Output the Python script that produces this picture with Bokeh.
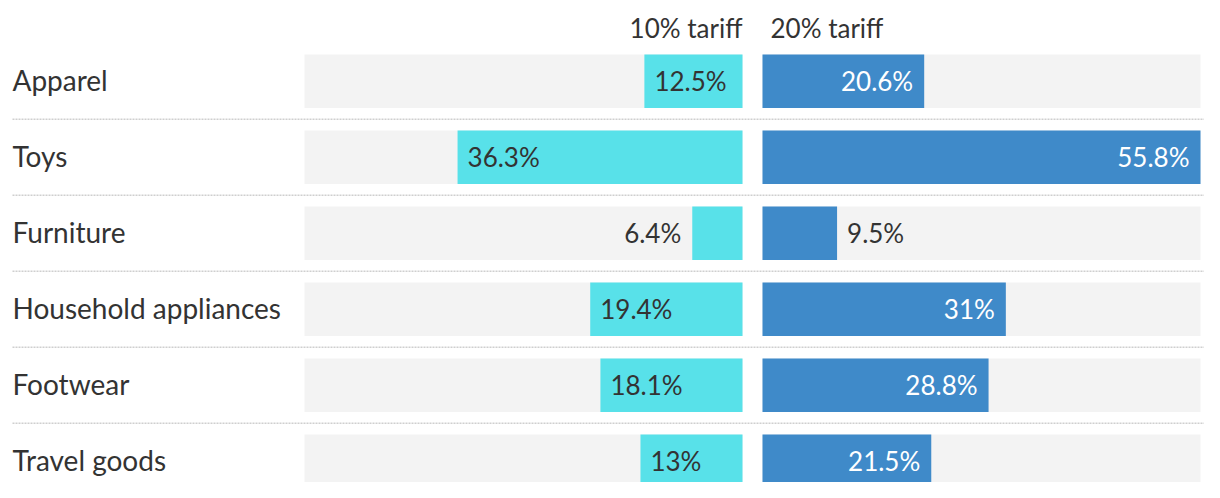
from bokeh.plotting import figure
from bokeh.models import Range1d
from bokeh.core.properties import value
from bokeh.embed import file_html
from bokeh.resources import INLINE

categories = ["Apparel", "Toys", "Furniture", "Household appliances", "Footwear", "Travel goods"]
tariff10 = [12.5, 36.3, 6.4, 19.4, 18.1, 13.0]
tariff20 = [20.6, 55.8, 9.5, 31.0, 28.8, 21.5]
labels10 = ["12.5%", "36.3%", "6.4%", "19.4%", "18.1%", "13%"]
labels20 = ["20.6%", "55.8%", "9.5%", "31%", "28.8%", "21.5%"]
headers = ["10% tariff", "20% tariff"]

FONT = "Lato"
W, H = 1204, 482
X0, X1 = 0, W
PANEL_W = 438
LEFT_ZERO = 742
RIGHT_ZERO = 762
ROW0 = 80.8
PITCH = 76.0
BAR_H = 53.5 / PITCH

vmax = max(max(tariff10), max(tariff20))
s = PANEL_W / vmax

p = figure(width=W, height=H, output_backend="svg", toolbar_location=None,
           x_range=Range1d(X0, X1),
           y_range=Range1d((H - ROW0) / PITCH, (0 - ROW0) / PITCH),
           min_border=0, min_border_left=0, min_border_right=0,
           min_border_top=0, min_border_bottom=0)
p.extra_x_ranges = {
    "left": Range1d((LEFT_ZERO - X0) / s, (LEFT_ZERO - X1) / s),
    "right": Range1d((X0 - RIGHT_ZERO) / s, (X1 - RIGHT_ZERO) / s),
}
p.xaxis.visible = False
p.yaxis.visible = False
p.grid.visible = False
p.outline_line_color = None
p.background_fill_color = "white"
p.border_fill_color = "white"

rows = list(range(len(categories)))

# separators
sep_y = [r + 0.5 for r in rows[:-1]]
p.segment(x0=[12] * len(sep_y), x1=[1204] * len(sep_y), y0=sep_y, y1=sep_y,
          line_color="#cfcfcf", line_width=1.5, line_dash="2 1")

# backgrounds
p.hbar(y=rows, left=0, right=vmax, height=BAR_H, fill_color="#f3f3f3",
       line_color=None, x_range_name="left")
p.hbar(y=rows, left=0, right=vmax, height=BAR_H, fill_color="#f3f3f3",
       line_color=None, x_range_name="right")

# bars
p.hbar(y=rows, left=0, right=tariff10, height=BAR_H, fill_color="#58e1e9",
       line_color=None, x_range_name="left")
p.hbar(y=rows, left=0, right=tariff20, height=BAR_H, fill_color="#3f8ac9",
       line_color=None, x_range_name="right")

# category labels
p.text(x=[12] * len(rows), y=rows, text=categories, text_font=value(FONT),
       text_font_size="28px", text_color="#333333", text_align="left",
       text_baseline="middle", y_offset=-1)

THR = 10
fs = "26px"
# left value labels
in_l = [i for i in rows if tariff10[i] > THR]
out_l = [i for i in rows if tariff10[i] <= THR]
p.text(x=[tariff10[i] for i in in_l], y=in_l, text=[labels10[i] for i in in_l],
       x_offset=10, text_align="left", text_baseline="middle", text_color="#333333",
       text_font=value(FONT), text_font_size=fs, x_range_name="left")
p.text(x=[tariff10[i] for i in out_l], y=out_l, text=[labels10[i] for i in out_l],
       x_offset=-11, text_align="right", text_baseline="middle", text_color="#333333",
       text_font=value(FONT), text_font_size=fs, x_range_name="left")
# right value labels
in_r = [i for i in rows if tariff20[i] > THR]
out_r = [i for i in rows if tariff20[i] <= THR]
p.text(x=[tariff20[i] for i in in_r], y=in_r, text=[labels20[i] for i in in_r],
       x_offset=-11, text_align="right", text_baseline="middle", text_color="white",
       text_font=value(FONT), text_font_size=fs, x_range_name="right")
p.text(x=[tariff20[i] for i in out_r], y=out_r, text=[labels20[i] for i in out_r],
       x_offset=10, text_align="left", text_baseline="middle", text_color="#333333",
       text_font=value(FONT), text_font_size=fs, x_range_name="right")

# headers
hy = (27 - ROW0) / PITCH
p.text(x=[0], y=[hy], text=[headers[0]], text_align="right", text_baseline="middle",
       text_color="#333333", text_font=value(FONT), text_font_size=fs,
       x_range_name="left")
p.text(x=[0], y=[hy], text=[headers[1]], x_offset=8, text_align="left",
       text_baseline="middle", text_color="#333333", text_font=value(FONT),
       text_font_size=fs, x_range_name="right")

open("out.html", "w").write(file_html(p, INLINE))
